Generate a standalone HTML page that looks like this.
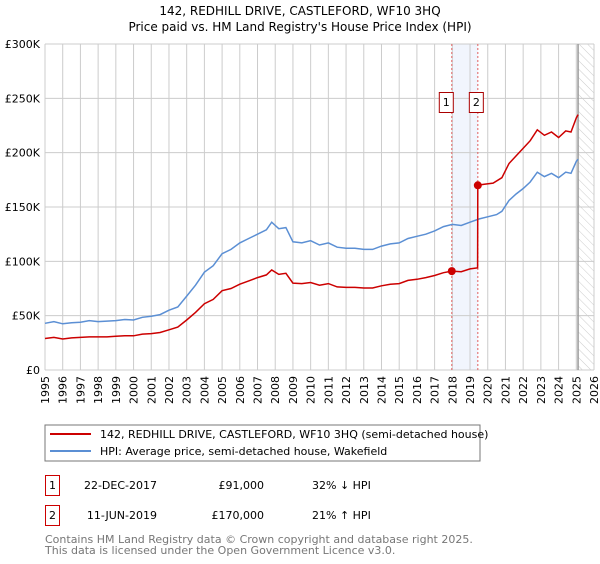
<!DOCTYPE html>
<html><head><meta charset="utf-8"><style>
body{margin:0;background:#fff;font-family:"DejaVu Sans","Liberation Sans",sans-serif;}
svg text{font-family:"DejaVu Sans","Liberation Sans",sans-serif;}
</style></head><body>
<svg id="c" width="600" height="560" viewBox="0 0 600 560">
<defs><pattern id="hatch" width="6" height="6" patternUnits="userSpaceOnUse" patternTransform="rotate(-45)"><line x1="0" y1="0" x2="0" y2="6" stroke="#ccc" stroke-width="1"/></pattern></defs>
<text x="300" y="15" text-anchor="middle" font-size="12" fill="#000">142, REDHILL DRIVE, CASTLEFORD, WF10 3HQ</text>
<text x="300" y="31" text-anchor="middle" font-size="12" fill="#000">Price paid vs. HM Land Registry's House Price Index (HPI)</text>
<g id="grid"></g><g id="marks"></g>
<rect x="45" y="425" width="435" height="36" fill="#fff" stroke="#777"/>
<line x1="50" y1="434" x2="91" y2="434" stroke="#cc0000" stroke-width="2"/>
<text x="100" y="438" font-size="11">142, REDHILL DRIVE, CASTLEFORD, WF10 3HQ (semi-detached house)</text>
<line x1="50" y1="451" x2="91" y2="451" stroke="#5b8fd4" stroke-width="2"/>
<text x="100" y="455" font-size="11">HPI: Average price, semi-detached house, Wakefield</text>
<g>
<rect x="45.5" y="475.5" width="14" height="20" fill="#fff" stroke="#cc0000"/><text x="52.5" y="489" font-size="11" text-anchor="middle">1</text>
<text x="157" y="489" font-size="11" text-anchor="end">22-DEC-2017</text><text x="264" y="489" font-size="11" text-anchor="end">£91,000</text><text x="312" y="489" font-size="11">32% ↓ HPI</text></g>
<g>
<rect x="45.5" y="505.5" width="14" height="20" fill="#fff" stroke="#cc0000"/><text x="52.5" y="519" font-size="11" text-anchor="middle">2</text>
<text x="157" y="519" font-size="11" text-anchor="end">11-JUN-2019</text><text x="264" y="519" font-size="11" text-anchor="end">£170,000</text><text x="312" y="519" font-size="11">21% ↑ HPI</text></g>
<text x="45" y="543" font-size="11" fill="#777">Contains HM Land Registry data © Crown copyright and database right 2025.</text>
<text x="45" y="554" font-size="11" fill="#777">This data is licensed under the Open Government Licence v3.0.</text>
</svg>
<script>
const yTicks=[0,50000,100000,150000,200000,250000,300000];
const yTickLabels=["£0","£50K","£100K","£150K","£200K","£250K","£300K"];
const xYears=[1995,1996,1997,1998,1999,2000,2001,2002,2003,2004,2005,2006,2007,2008,2009,2010,2011,2012,2013,2014,2015,2016,2017,2018,2019,2020,2021,2022,2023,2024,2025,2026];
const hpiDates=[1995,1995.5,1996,1996.5,1997,1997.5,1998,1998.5,1999,1999.5,2000,2000.5,2001,2001.5,2002,2002.5,2003,2003.5,2004,2004.5,2005,2005.5,2006,2006.5,2007,2007.5,2007.8,2008.2,2008.6,2009,2009.5,2010,2010.5,2011,2011.5,2012,2012.5,2013,2013.5,2014,2014.5,2015,2015.5,2016,2016.5,2017,2017.5,2018,2018.5,2019,2019.5,2020,2020.5,2020.8,2021.2,2021.6,2022,2022.4,2022.8,2023.2,2023.6,2024,2024.4,2024.7,2025,2025.1];
const hpiValues=[43000,44500,42500,43500,44000,45500,44500,45000,45500,46500,46000,48500,49500,51000,55000,58000,68000,78000,90000,96000,107000,111000,117000,121000,125000,129000,136000,130000,131000,118000,117000,119000,115000,117000,113000,112000,112000,111000,111000,114000,116000,117000,121000,123000,125000,128000,132000,134000,133000,136000,139000,141000,143000,146000,156000,162000,167000,173000,182000,178000,181000,177000,182000,181000,192000,194000];
const ppDates=[1995,1995.5,1996,1996.5,1997,1997.5,1998,1998.5,1999,1999.5,2000,2000.5,2001,2001.5,2002,2002.5,2003,2003.5,2004,2004.5,2005,2005.5,2006,2006.5,2007,2007.5,2007.8,2008.2,2008.6,2009,2009.5,2010,2010.5,2011,2011.5,2012,2012.5,2013,2013.5,2014,2014.5,2015,2015.5,2016,2016.5,2017,2017.5,2017.97,2018.5,2019,2019.43,2019.44,2019.8,2020.3,2020.8,2021.2,2021.6,2022,2022.4,2022.8,2023.2,2023.6,2024,2024.4,2024.7,2025,2025.1];
const ppValues=[29000,30000,28500,29500,30000,30500,30500,30500,31000,31500,31500,33000,33500,34500,37000,39500,46000,53000,61000,65000,73000,75000,79000,82000,85000,87500,92000,88000,89000,80000,79500,80500,78000,79500,76500,76000,76000,75500,75500,77500,79000,79500,82500,83500,85000,87000,89500,91000,90500,93000,94000,170000,171000,172000,177000,190000,197000,204000,211000,221000,216000,219000,214000,220000,219000,232000,235000];
const sales=[{d:2017.97,v:91000,n:"1"},{d:2019.44,v:170000,n:"2"}];
const X0=45,X1=594,Y0=370,Y1=44;
const xs=y=>X0+(y-1995)/(2026-1995)*(X1-X0);
const ys=v=>Y0-v/300000*(Y0-Y1);
const NS="http://www.w3.org/2000/svg";
const grid=document.getElementById('grid'),marks=document.getElementById('marks');
function mk(tag,attrs,parent){const e=document.createElementNS(NS,tag);for(const k in attrs)e.setAttribute(k,attrs[k]);parent.appendChild(e);return e;}
// shaded band & hatch
let band=mk('rect',{x:xs(sales[0].d),y:Y1,width:xs(sales[1].d)-xs(sales[0].d),height:Y0-Y1,fill:'#eef3fc',opacity:0.8},grid);


let hr=mk('rect',{x:xs(2025.1),y:Y1,width:X1-xs(2025.1),height:Y0-Y1,fill:'url(#hatch)'},grid);


xYears.forEach(yr=>{
  let l=mk('line',{x1:xs(yr),x2:xs(yr),y1:Y1,y2:Y0,stroke:'#ccc','stroke-width':1},grid);
  
  
  let t=mk('text',{x:0,y:0,'font-size':11,'text-anchor':'end',transform:`translate(${xs(yr)+4},${Y0+6}) rotate(-90)`},grid);
  t.textContent=yr;
  
  
});
yTicks.forEach((v,i)=>{
  let l=mk('line',{x1:X0,x2:X1,y1:ys(v),y2:ys(v),stroke:'#ccc','stroke-width':1},grid);
  
  
  let t=mk('text',{x:X0-5,y:ys(v)+4,'font-size':11,'text-anchor':'end'},grid);
  t.textContent=yTickLabels[i];
  
  
});
let ve=mk('line',{x1:xs(2025.1),x2:xs(2025.1),y1:Y1,y2:Y0,stroke:'#999','stroke-width':1.5},grid);


sales.forEach(s=>{
  let l=mk('line',{x1:xs(s.d),x2:xs(s.d),y1:Y1,y2:Y0,stroke:'#e06060','stroke-width':1,'stroke-dasharray':'2,2'},grid);
  
  
});
const path=(d,v)=>d.map((t,i)=>(i?'L':'M')+xs(t).toFixed(1)+','+ys(v[i]).toFixed(1)).join('');
let hp=mk('path',{d:path(hpiDates,hpiValues),fill:'none',stroke:'#5b8fd4','stroke-width':1.5},marks);


let pp=mk('path',{d:path(ppDates,ppValues),fill:'none',stroke:'#cc0000','stroke-width':1.5},marks);


sales.forEach((s,i)=>{
  let c=mk('circle',{cx:xs(s.d),cy:ys(s.v),r:4,fill:'#cc0000'},marks);
  
  
  const bx=xs(s.d)-(i===0?12:-4)-(i===0?0:4);
  let r=mk('rect',{x:xs(s.d)+(i===0?-12.5:-8.5),y:92.5,width:14,height:20,fill:'#fff',stroke:'#aa0000'},marks);
  
  
  let t=mk('text',{x:xs(s.d)+(i===0?-5.5:-1.5),y:106,'font-size':11,'text-anchor':'middle'},marks);
  t.textContent=s.n;
  
  
});
</script>
</body></html>
